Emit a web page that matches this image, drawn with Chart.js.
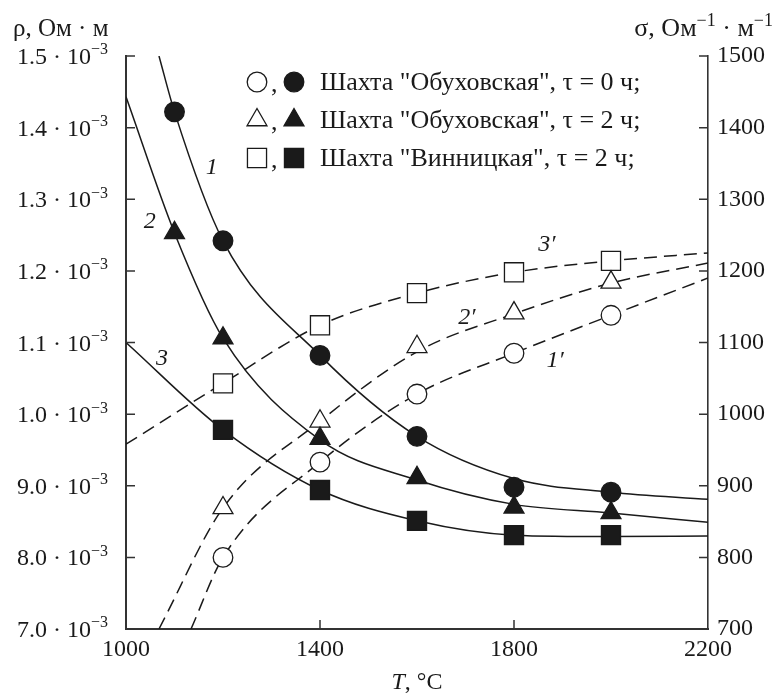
<!DOCTYPE html>
<html>
<head>
<meta charset="utf-8">
<script src="https://cdn.jsdelivr.net/npm/chart.js"></script>
<style>
  html, body { margin: 0; padding: 0; background: #fff; }
  #wrap { width: 773px; height: 695px; }
</style>
</head>
<body>
<div id="wrap"><canvas id="chart" width="773" height="695"></canvas></div>
<script>
// --- data -----------------------------------------------------------
// rho in units of 10^-3 Ohm*m (left axis), sigma in Ohm^-1*m^-1 (right axis)
var tFull  = [1100, 1200, 1400, 1600, 1800, 2000];
var tShort = [1200, 1400, 1600, 1800, 2000];

var rhoObukh0 = [1.422, 1.242, 1.082, 0.969, 0.898, 0.891];   // filled circles
var rhoObukh2 = [1.253, 1.106, 0.966, 0.911, 0.870, 0.862];   // filled triangles
var rhoVinn2  = [0.978, 0.894, 0.851, 0.831, 0.831];          // filled squares

var sigObukh0 = [800, 933, 1028, 1085, 1138];                 // open circles
var sigObukh2 = [869, 990, 1094, 1141, 1184];                 // open triangles
var sigVinn2  = [1043, 1124, 1169, 1198, 1214];               // open squares

// fitted curves as drawn (solid 1,2,3 and dashed 1',2',3')
var fitT1  = [1068, 1100, 1200, 1400, 1600, 1800, 2000, 2200];
var fitR1  = [1.5, 1.422, 1.242, 1.082, 0.969, 0.910, 0.891, 0.881];
var fitT2  = [1000, 1100, 1200, 1400, 1600, 1800, 2000, 2200];
var fitR2  = [1.443, 1.253, 1.106, 0.964, 0.908, 0.874, 0.862, 0.849];
var fitT3  = [1000, 1200, 1400, 1600, 1800, 2000, 2200];
var fitR3  = [1.100, 0.978, 0.894, 0.851, 0.831, 0.829, 0.830];
var fitT1p = [1134, 1200, 1400, 1600, 1800, 2000, 2200];
var fitS1p = [700, 800, 933, 1028, 1085, 1138, 1190];
var fitT2p = [1068, 1200, 1400, 1600, 1800, 2000, 2200];
var fitS2p = [700, 869, 990, 1087, 1140, 1183, 1211];
var fitT3p = [1000, 1200, 1400, 1600, 1800, 2000, 2200];
var fitS3p = [958, 1043, 1124, 1169, 1198, 1214, 1225];

var tTicks     = [1000, 1400, 1800, 2200];
var rhoTicks   = [0.7, 0.8, 0.9, 1.0, 1.1, 1.2, 1.3, 1.4, 1.5];
var rhoLabels  = ['7.0', '8.0', '9.0', '1.0', '1.1', '1.2', '1.3', '1.4', '1.5'];
var sigTicks   = [700, 800, 900, 1000, 1100, 1200, 1300, 1400, 1500];

var legendRows = [
  ['circle',   'Шахта "Обуховская", τ = 0 ч;'],
  ['triangle', 'Шахта "Обуховская", τ = 2 ч;'],
  ['rect',     'Шахта "Винницкая", τ = 2 ч;']
];
// curve labels: [text, T, value, axis]
var curveLabels = [
  ['1', 1177, 1.344, 'y'], ['2', 1049, 1.268, 'y'], ['3', 1074, 1.077, 'y'],
  ['3′', 1868, 1236, 'y1'], ['2′', 1703, 1134, 'y1'], ['1′', 1885, 1075, 'y1']
];

// --- styling ---------------------------------------------------------
var SERIF = '"Liberation Serif", "Times New Roman", serif';
var INK = '#1a1a1a';
var AXIS = '#333';
var RADIUS = { circle: 9.8, triangle: 11.5, rect: 13.5 };

function pts(xs, ys) {
  return xs.map(function (x, i) { return { x: x, y: ys[i] }; });
}

function fitLine(xs, ys, axis, dashed) {
  return {
    data: pts(xs, ys), yAxisID: axis, showLine: true, order: 2,
    borderColor: INK, borderWidth: 1.5, borderDash: dashed ? [13, 7] : [],
    pointRadius: 0, cubicInterpolationMode: 'monotone', fill: false
  };
}

function marks(xs, ys, axis, style, filled) {
  var r = RADIUS[style];
  return {
    data: pts(xs, ys), yAxisID: axis, showLine: false, order: 0,
    pointStyle: style, pointRadius: r, pointHoverRadius: r,
    pointBackgroundColor: filled ? INK : '#fff',
    pointBorderColor: INK, pointBorderWidth: 1.3
  };
}

// draw a legend marker the same way Chart.js draws the points
function marker(ctx, style, x, y, filled) {
  var r = RADIUS[style];
  ctx.beginPath();
  if (style === 'circle') {
    ctx.arc(x, y, r, 0, Math.PI * 2);
  } else if (style === 'triangle') {
    ctx.moveTo(x, y - r);
    ctx.lineTo(x + r * Math.sin(Math.PI * 2 / 3), y - r * Math.cos(Math.PI * 2 / 3));
    ctx.lineTo(x + r * Math.sin(Math.PI * 4 / 3), y - r * Math.cos(Math.PI * 4 / 3));
  } else {
    var s = Math.SQRT1_2 * r;
    ctx.rect(x - s, y - s, 2 * s, 2 * s);
  }
  ctx.closePath();
  ctx.fillStyle = filled ? INK : '#fff';
  ctx.fill();
  ctx.lineWidth = 1.3;
  ctx.strokeStyle = INK;
  ctx.stroke();
}

// text with superscripts; parts = [[text, isSup], ...]
function richText(ctx, parts, x, y, align, size) {
  var fonts = parts.map(function (p) { return (p[1] ? Math.round(size * 0.68) : size) + 'px ' + SERIF; });
  var w = 0;
  parts.forEach(function (p, i) { ctx.font = fonts[i]; w += ctx.measureText(p[0]).width; });
  var cx = align === 'right' ? x - w : (align === 'center' ? x - w / 2 : x);
  ctx.textAlign = 'left';
  ctx.textBaseline = 'alphabetic';
  parts.forEach(function (p, i) {
    ctx.font = fonts[i];
    ctx.fillText(p[0], cx, p[1] ? y - size * 0.4 : y);
    cx += ctx.measureText(p[0]).width;
  });
}

var decor = {
  id: 'decor',
  afterDraw: function (chart) {
    var ctx = chart.ctx, a = chart.chartArea;
    var sx = chart.scales.x, sy = chart.scales.y, sy1 = chart.scales.y1;
    ctx.save();
    ctx.fillStyle = INK;
    ctx.strokeStyle = AXIS;
    ctx.lineWidth = 1.5;

    // inward tick marks
    ctx.beginPath();
    rhoTicks.forEach(function (v) {
      var y = sy.getPixelForValue(v);
      ctx.moveTo(a.left, y); ctx.lineTo(a.left + 9, y);
    });
    sigTicks.forEach(function (v) {
      var y = sy1.getPixelForValue(v);
      ctx.moveTo(a.right, y); ctx.lineTo(a.right - 9, y);
    });
    tTicks.slice(1, -1).forEach(function (v) {
      var x = sx.getPixelForValue(v);
      ctx.moveTo(x, a.bottom); ctx.lineTo(x, a.bottom - 9);
    });
    ctx.stroke();

    // left tick labels  "1.5 · 10^-3"
    ctx.fillStyle = INK;
    rhoTicks.forEach(function (v, i) {
      var y = sy.getPixelForValue(v) + 8;
      richText(ctx, [[rhoLabels[i] + ' · 10', false], ['−3', true]], 108, y, 'right', 24);
    });

    // axis titles
    richText(ctx, [['ρ, Ом · м', false]], 13, 36, 'left', 25);
    richText(ctx, [['σ, Ом', false], ['−1', true], [' · м', false], ['−1', true]], 773, 36, 'right', 26);
    ctx.font = 'italic 24px ' + SERIF;
    var tw = ctx.measureText('T').width;
    ctx.font = '24px ' + SERIF;
    var rw = ctx.measureText(', °C').width;
    var tx = (a.left + a.right) / 2 - (tw + rw) / 2;
    ctx.textAlign = 'left';
    ctx.font = 'italic 24px ' + SERIF;
    ctx.fillText('T', tx, 689);
    ctx.font = '24px ' + SERIF;
    ctx.fillText(', °C', tx + tw, 689);

    // curve numbers
    ctx.font = 'italic 24px ' + SERIF;
    ctx.textAlign = 'center';
    ctx.textBaseline = 'middle';
    curveLabels.forEach(function (c) {
      var yScale = chart.scales[c[3]];
      ctx.fillText(c[0], sx.getPixelForValue(c[1]), yScale.getPixelForValue(c[2]));
    });

    // legend
    legendRows.forEach(function (row, i) {
      var y = 82 + i * 38;
      marker(ctx, row[0], 257, y, false);
      marker(ctx, row[0], 294, y, true);
      ctx.fillStyle = INK;
      ctx.font = '26px ' + SERIF;
      ctx.textAlign = 'left';
      ctx.textBaseline = 'middle';
      ctx.fillText(',', 271, y + 3);
      ctx.fillText(row[1], 320, y + 1);
    });
    ctx.restore();
  }
};

var tickFont = { family: SERIF, size: 24 };

new Chart(document.getElementById('chart'), {
  type: 'scatter',
  data: {
    datasets: [
      marks(tFull, rhoObukh0, 'y', 'circle', true),
      marks(tFull, rhoObukh2, 'y', 'triangle', true),
      marks(tShort, rhoVinn2, 'y', 'rect', true),
      marks(tShort, sigObukh0, 'y1', 'circle', false),
      marks(tShort, sigObukh2, 'y1', 'triangle', false),
      marks(tShort, sigVinn2, 'y1', 'rect', false),
      fitLine(fitT1, fitR1, 'y', false),
      fitLine(fitT2, fitR2, 'y', false),
      fitLine(fitT3, fitR3, 'y', false),
      fitLine(fitT1p, fitS1p, 'y1', true),
      fitLine(fitT2p, fitS2p, 'y1', true),
      fitLine(fitT3p, fitS3p, 'y1', true)
    ]
  },
  options: {
    responsive: false,
    animation: false,
    layout: { padding: { top: 56, left: 0, right: 0, bottom: 0 } },
    plugins: { legend: { display: false }, tooltip: { enabled: false } },
    scales: {
      x: {
        type: 'linear', position: 'bottom', min: 1000, max: 2200,
        afterBuildTicks: function (s) { s.ticks = tTicks.map(function (v) { return { value: v }; }); },
        afterFit: function (s) { s.height = 66; },
        grid: { display: false, drawTicks: false },
        border: { display: true, color: AXIS, width: 2 },
        ticks: { font: tickFont, color: INK, padding: 6, maxRotation: 0, autoSkip: false,
                 callback: function (v) { return String(v); } }
      },
      y: {
        type: 'linear', position: 'left', min: 0.7, max: 1.5,
        afterFit: function (s) { s.width = 126; },
        grid: { display: false, drawTicks: false },
        border: { display: true, color: AXIS, width: 2 },
        ticks: { display: false }
      },
      y1: {
        type: 'linear', position: 'right', min: 700, max: 1500,
        afterBuildTicks: function (s) { s.ticks = sigTicks.map(function (v) { return { value: v }; }); },
        afterFit: function (s) { s.width = 65; },
        grid: { display: false, drawTicks: false },
        border: { display: true, color: AXIS, width: 1.6 },
        ticks: { font: tickFont, color: INK, padding: 9, autoSkip: false,
                 callback: function (v) { return String(v); } }
      }
    }
  },
  plugins: [decor]
});
</script>
</body>
</html>
